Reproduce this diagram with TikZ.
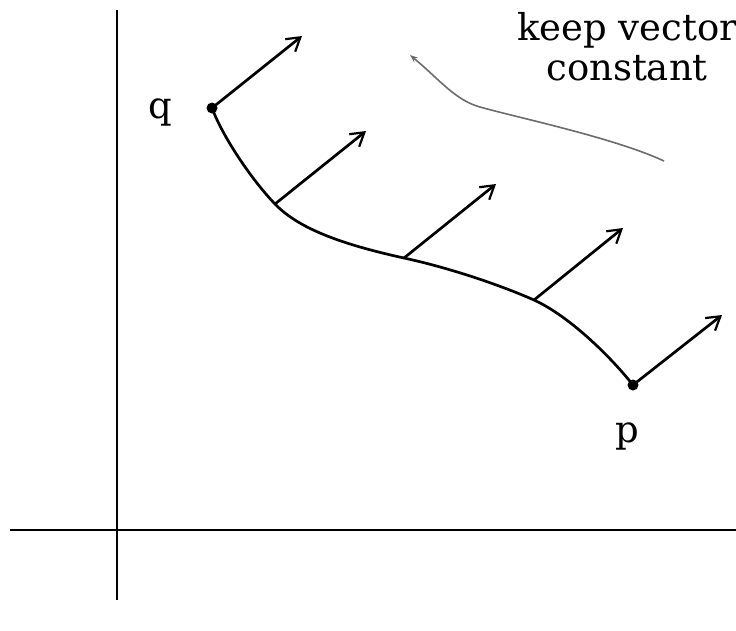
\documentclass[tikz,border=0pt]{standalone}
\usepackage{fontspec}
\setmainfont{DejaVu Serif}
\usetikzlibrary{arrows.meta}
\begin{document}
\begin{tikzpicture}[x=1pt,y=-1pt,
  axis/.style={line width=2pt},
  path/.style={line width=2.7pt},
  vec/.style={line width=2.7pt,-{Straight Barb[length=13pt,width=16pt,line width=2.2pt]}},
  hint/.style={line width=1.6pt,gray!85!black,-{Stealth[length=8pt,width=6pt]}},
  lbl/.style={font=\fontsize{37}{40}\selectfont},
  dot/.style={circle,fill=black,inner sep=0pt,minimum size=11pt}]
\useasboundingbox (0,0) rectangle (736,630);
% axes
\coordinate (ytop) at (117,10);
\coordinate (ybot) at (117,600);
\coordinate (xl) at (10,530);
\coordinate (xr) at (736,530);
\draw[axis] (ytop) -- (ybot);
\draw[axis] (xl) -- (xr);
% curve points
\node[dot] (q) at (212,108) {};
\node[dot] (p) at (633,385) {};
\coordinate (a1) at (275,204);
\coordinate (a2) at (404,258);
\coordinate (a3) at (534,300);
\draw[path] (q.center) .. controls (222,135) and (250,178) .. (a1)
  .. controls (298,228) and (340,244) .. (a2)
  .. controls (450,268) and (500,285) .. (a3)
  .. controls (565,314) and (605,350) .. (p.center);
% vectors
\coordinate (tq) at (302,36);
\coordinate (t1) at (366,131);
\coordinate (t2) at (496,184);
\coordinate (t3) at (623,228);
\coordinate (tp) at (722,315);
\draw[vec] (q.center) -- (tq);
\draw[vec] (a1) -- (t1);
\draw[vec] (a2) -- (t2);
\draw[vec] (a3) -- (t3);
\draw[vec] (p.center) -- (tp);
% labels
\node[lbl] (ql) at (160,112) {q};
\node[lbl] (pl) at (627,436) {p};
\node[lbl,align=center] (keep) at (627,47) {keep vector\\constant};
% hint arrow
\coordinate (h0) at (664,161);
\coordinate (h1) at (410,55);
\draw[hint] (h0) .. controls (615,138) and (515,117) .. (480,107) .. controls (455,100) and (440,80) .. (h1);
\end{tikzpicture}
\end{document}
